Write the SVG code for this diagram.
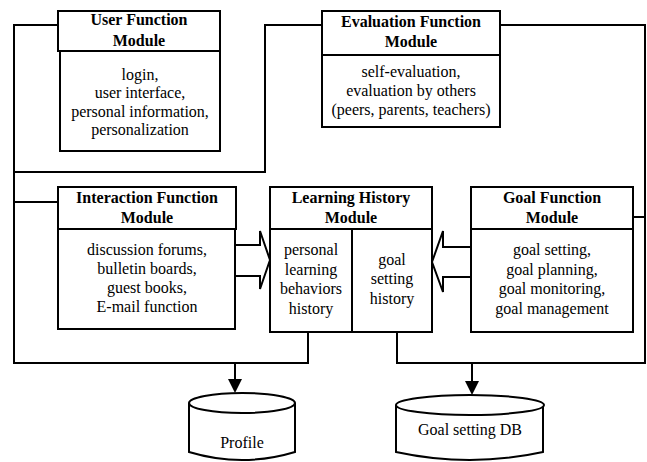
<svg xmlns="http://www.w3.org/2000/svg" width="647" height="462" viewBox="0 0 647 462" font-family="Liberation Serif, Times New Roman, serif" font-size="16">
<defs>
<style>
.b{fill:#fff;stroke:#000;stroke-width:2}
.l{fill:none;stroke:#000;stroke-width:2}
.ah{fill:#000;stroke:none}
text{fill:#000;text-anchor:middle}
.h{font-weight:bold}
</style>
</defs>
<rect width="647" height="462" fill="#fff"/>
<g id="connectors">
<path class="l" d="M58,25 H14 V363 H308 V332"/>
<path class="l" d="M14,172 H265 V25 H322"/>
<path class="l" d="M14,202 H58"/>
<path class="l" d="M500,25 H645 V363 H397 V332"/>
<path class="l" d="M633,217 H645"/>
<path class="l" d="M235,363 V380"/>
<polygon class="ah" points="228,379 242,379 235,393"/>
<path class="l" d="M472,363 V382"/>
<polygon class="ah" points="465,381 479,381 472,395"/>
<path class="b" d="M235,245 H260 V231 L270,260 L260,289 V276 H235"/>
<path class="b" d="M471,247 H443 V231 L432,262 L443,292 V277 H471"/>
</g>
<g id="user">
<rect class="b" x="58" y="11" width="162" height="40"/>
<rect class="b" x="60" y="51" width="160" height="100"/>
<text class="h" x="139" y="25">User Function</text>
<text class="h" x="139" y="46">Module</text>
<text x="140" y="80">login,</text>
<text x="140" y="98">user interface,</text>
<text x="140" y="117">personal information,</text>
<text x="140" y="135">personalization</text>
</g>
<g id="evaluation">
<rect class="b" x="322" y="11" width="178" height="44"/>
<rect class="b" x="322" y="55" width="178" height="72"/>
<text class="h" x="411" y="27">Evaluation Function</text>
<text class="h" x="411" y="47">Module</text>
<text x="411" y="77">self-evaluation,</text>
<text x="411" y="96">evaluation by others</text>
<text x="411" y="115">(peers, parents, teachers)</text>
</g>
<g id="interaction">
<rect class="b" x="58" y="187" width="178" height="42"/>
<rect class="b" x="58" y="229" width="177" height="100"/>
<text class="h" x="147" y="203">Interaction Function</text>
<text class="h" x="147" y="223">Module</text>
<text x="147" y="255">discussion forums,</text>
<text x="147" y="274">bulletin boards,</text>
<text x="147" y="293">guest books,</text>
<text x="147" y="312">E-mail function</text>
</g>
<g id="learning">
<rect class="b" x="270" y="187" width="162" height="42"/>
<rect class="b" x="270" y="229" width="162" height="103"/>
<path class="l" d="M352,229 V332"/>
<text class="h" x="351" y="203">Learning History</text>
<text class="h" x="351" y="223">Module</text>
<text x="311" y="255">personal</text>
<text x="311" y="275">learning</text>
<text x="311" y="294">behaviors</text>
<text x="311" y="314">history</text>
<text x="392" y="265">goal</text>
<text x="392" y="284">setting</text>
<text x="392" y="304">history</text>
</g>
<g id="goal">
<rect class="b" x="471" y="187" width="162" height="42"/>
<rect class="b" x="471" y="229" width="162" height="103"/>
<text class="h" x="552" y="203">Goal Function</text>
<text class="h" x="552" y="223">Module</text>
<text x="552" y="255">goal setting,</text>
<text x="552" y="275">goal planning,</text>
<text x="552" y="294">goal monitoring,</text>
<text x="552" y="314">goal management</text>
</g>
<g id="profile">
<path class="b" d="M189,403 V452 Q242,468 295,452 V403"/>
<ellipse class="b" cx="242" cy="403" rx="53" ry="10"/>
<text x="242" y="448">Profile</text>
</g>
<g id="goaldb">
<path class="b" d="M396,405 V452 Q470,468 543,452 V405"/>
<ellipse class="b" cx="470" cy="405" rx="74" ry="10"/>
<text x="470" y="435">Goal setting DB</text>
</g>
</svg>
